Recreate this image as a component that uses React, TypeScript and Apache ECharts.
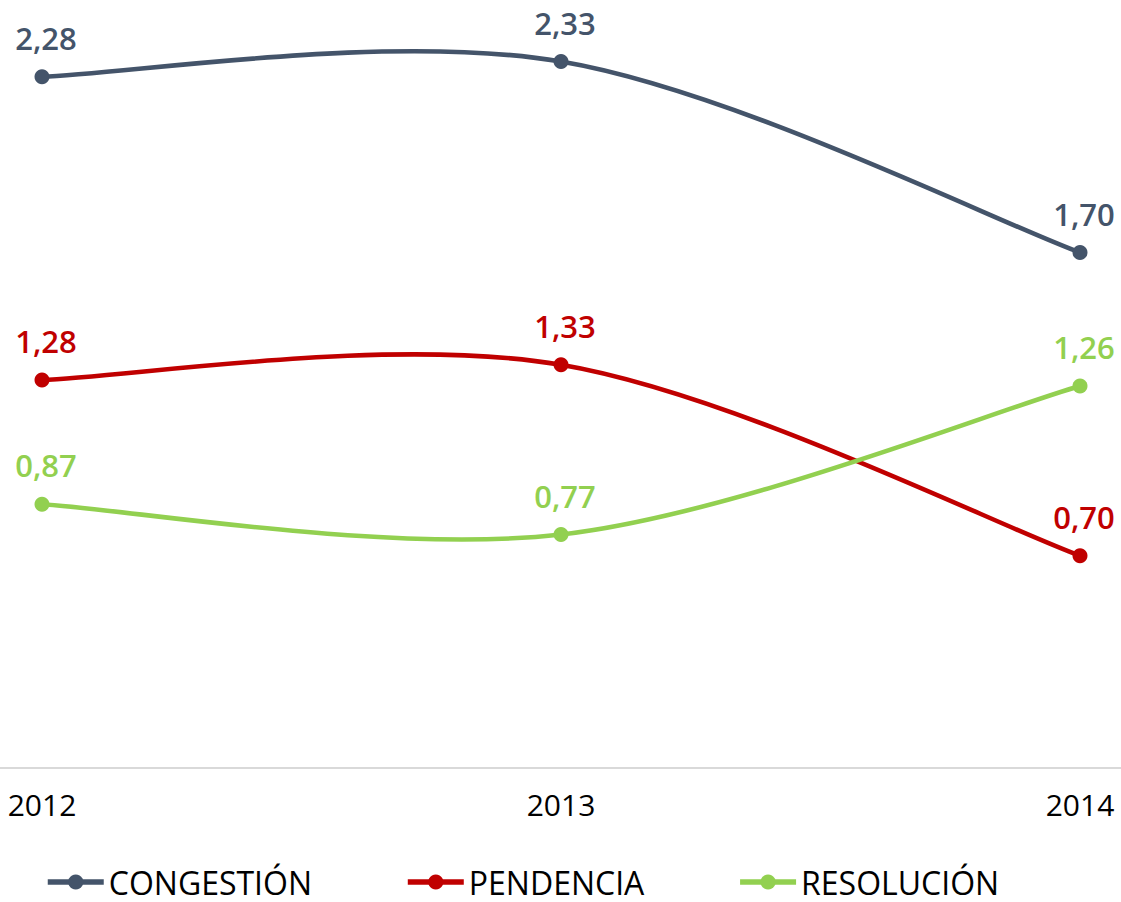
import React, { useEffect, useRef } from "react";
import * as echarts from "echarts";

const years = ["2012", "2013", "2014"];
const congestion = [2.28, 2.33, 1.7];
const pendencia = [1.28, 1.33, 0.7];
const resolucion = [0.87, 0.77, 1.26];
const seriesNames = ["CONGESTIÓN", "PENDENCIA", "RESOLUCIÓN"];
const colors = ["#44546A", "#C00000", "#92D050"];

const FONT = "'Open Sans', sans-serif";
const LINE_W = 4.6;

// Excel-style (Catmull-Rom) smoothed curve drawn via the axes' scales
function curveSeries(name: string, values: number[], color: string) {
  return {
    name: name + "__curve",
    type: "custom",
    silent: true,
    z: 2,
    data: values.map((v, i) => [i, v]),
    renderItem: (params: any, api: any) => {
      const i = params.dataIndex;
      if (i >= values.length - 1) return null;
      const pts = values.map((v, k) => api.coord([k, v]));
      const p0 = pts[i];
      const p1 = pts[i + 1];
      const pm = i > 0 ? pts[i - 1] : p0;
      const pn = i + 2 < pts.length ? pts[i + 2] : p1;
      return {
        type: "bezierCurve",
        shape: {
          x1: p0[0],
          y1: p0[1],
          x2: p1[0],
          y2: p1[1],
          cpx1: p0[0] + (p1[0] - pm[0]) / 6,
          cpy1: p0[1] + (p1[1] - pm[1]) / 6,
          cpx2: p1[0] - (pn[0] - p0[0]) / 6,
          cpy2: p1[1] - (pn[1] - p0[1]) / 6,
        },
        style: { stroke: color, lineWidth: LINE_W, fill: "none", lineCap: "round" },
      };
    },
  };
}

function pointSeries(name: string, values: number[], color: string) {
  return {
    name,
    type: "line",
    data: values,
    z: 3,
    symbol: "circle",
    symbolSize: 15,
    itemStyle: { color },
    lineStyle: { color, width: LINE_W, opacity: 0 },
    label: {
      show: true,
      position: "top",
      distance: 16,
      offset: [4, 0],
      color,
      fontFamily: FONT,
      fontSize: 31,
      fontWeight: 600,
      formatter: (p: any) => p.value.toFixed(2).replace(".", ","),
    },
  };
}

export default function App() {
  const ref = useRef<HTMLDivElement>(null);
  useEffect(() => {
    document.body.style.margin = "0";
    if (!ref.current) return;
    const chart = echarts.init(ref.current, undefined, { renderer: "svg" });
    chart.setOption({
      animation: false,
      backgroundColor: "#ffffff",
      textStyle: { fontFamily: FONT },
      grid: { left: 42, right: 41, top: 10, bottom: 134, containLabel: false },
      xAxis: {
        type: "category",
        data: years,
        boundaryGap: false,
        axisLine: { show: false },
        axisTick: { show: false },
        axisLabel: { color: "#000000", fontSize: 30, fontFamily: FONT, margin: 21 },
        splitLine: { show: false },
      },
      yAxis: {
        type: "value",
        min: 0,
        max: 2.5,
        show: false,
        splitLine: { show: false },
      },
      legend: {
        left: 40,
        top: 866,
        padding: [0, 5, 0, 5],
        itemWidth: 56,
        itemHeight: 19,
        itemGap: 93,
        lineStyle: { opacity: 1, width: 5.5 },
        textStyle: {
          color: "#000000",
          fontSize: 32,
          lineHeight: 30,
          fontFamily: FONT,
          fontWeight: 400,
        },
        data: seriesNames,
      },
      series: [
        curveSeries(seriesNames[0], congestion, colors[0]),
        curveSeries(seriesNames[1], pendencia, colors[1]),
        curveSeries(seriesNames[2], resolucion, colors[2]),
        pointSeries(seriesNames[0], congestion, colors[0]),
        pointSeries(seriesNames[1], pendencia, colors[1]),
        pointSeries(seriesNames[2], resolucion, colors[2]),
      ],
    });
    const y0 = chart.convertToPixel({ yAxisIndex: 0 }, 0) as number;
    chart.setOption({
      graphic: [
        {
          type: "line",
          silent: true,
          z: 1,
          shape: { x1: 0, y1: y0, x2: 1121, y2: y0 },
          style: { stroke: "#D9D9D9", lineWidth: 2 },
        },
      ],
    });
    return () => chart.dispose();
  }, []);
  return <div ref={ref} style={{ width: 1121, height: 902 }} />;
}
